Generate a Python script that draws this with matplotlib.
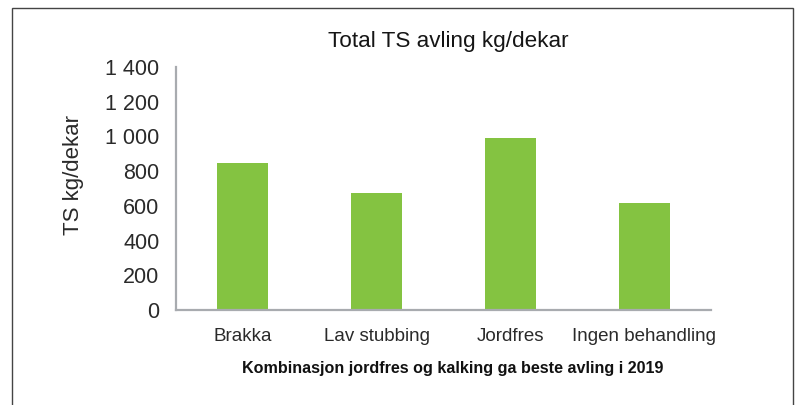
import matplotlib.pyplot as plt
from matplotlib.patches import Rectangle
from matplotlib.ticker import FuncFormatter

plt.rcParams['font.family'] = ['Liberation Sans', 'DejaVu Sans']

categories = ['Brakka', 'Lav stubbing', 'Jordfres', 'Ingen behandling']
values = [845, 675, 993, 617]
yticks = [0, 200, 400, 600, 800, 1000, 1200, 1400]

W, H = 797, 405
fig = plt.figure(figsize=(W / 100, H / 100), dpi=100)

# axes box in pixels: left 176, right 711, top 67, bottom 310
ax = fig.add_axes([176 / W, 1 - 310 / H, (711 - 176) / W, (310 - 67) / H])
ax.bar(range(len(categories)), values, width=0.38, color='#84c341')
ax.set_xlim(-0.5, len(categories) - 0.5)
ax.set_ylim(0, 1400)
ax.set_yticks(yticks)
ax.yaxis.set_major_formatter(FuncFormatter(lambda v, p: f"{int(v):,}".replace(",", " ")))
ax.set_xticks(range(len(categories)))
ax.set_xticklabels(categories)
ax.tick_params(length=0, colors='#2a2a2a')
ax.tick_params(axis='y', pad=12, labelsize=15.5)
ax.tick_params(axis='x', pad=13, labelsize=13.5)

for s in ['top', 'right']:
    ax.spines[s].set_visible(False)
for s in ['left', 'bottom']:
    ax.spines[s].set_color('#a8abaf')
    ax.spines[s].set_linewidth(1.6)

fig.text(448 / W, 1 - 42 / H, 'Total TS avling kg/dekar', ha='center', va='center',
         fontsize=16.2, color='#151515')
fig.text(73 / W, 1 - 175 / H, 'TS kg/dekar', ha='center', va='center', rotation=90,
         fontsize=16, color='#2a2a2a')
fig.text(453 / W, 1 - 369 / H, 'Kombinasjon jordfres og kalking ga beste avling i 2019',
         ha='center', va='center', fontsize=11.6, fontweight='bold', color='#111111')

# outer frame
fig.patches.append(Rectangle((12 / W, -0.1), (793 - 12) / W, 1.1 - 8 / H,
                             transform=fig.transFigure, fill=False,
                             edgecolor='#444444', linewidth=1.0))

fig.savefig('out.png', dpi=100)
